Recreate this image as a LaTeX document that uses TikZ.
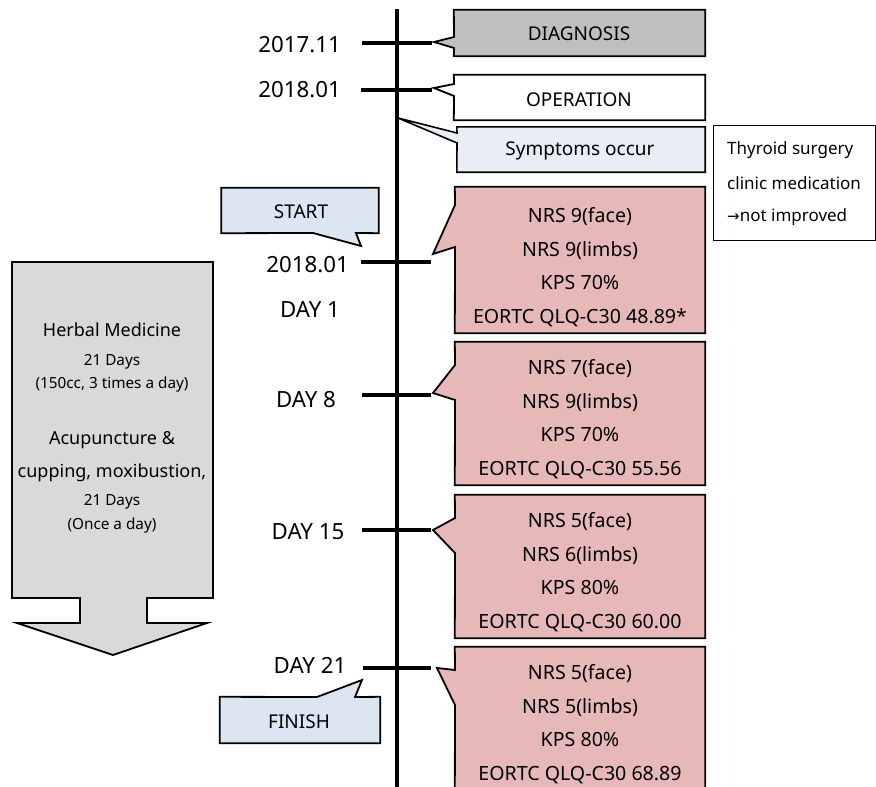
\documentclass[tikz,border=0pt]{standalone}
\usepackage{fontspec}
\setmainfont{Noto Sans}
\newfontfamily\symfont{DejaVu Sans}
\definecolor{diaggray}{HTML}{BFBFBF}
\definecolor{pinkfill}{HTML}{E6B9B8}
\definecolor{sympfill}{HTML}{E9EEF6}
\definecolor{startfill}{HTML}{DCE6F2}
\definecolor{arrowfill}{HTML}{D9D9D9}
\newcommand{\fs}[2]{\fontsize{#1}{#2}\selectfont}
\tikzset{
  boxline/.style={draw=black, line width=1.8pt, line join=miter},
  boxnode/.style={inner sep=0pt, minimum width=250pt, align=center},
  datebox/.style={font=\fs{22.3}{26}, inner sep=0pt},
  measure/.style={boxnode, font=\fs{19.6}{33.5}},
  tick/.style={line width=4.5pt},
  herb/.style={inner sep=0pt, font=\fs{18}{20}},
  herbsmall/.style={inner sep=0pt, font=\fs{15.3}{17}},
  labeltext/.style={inner sep=0pt, font=\fs{19}{21}},
  notetext/.style={anchor=west, inner sep=0pt, font=\fs{17}{20}},
}
\begin{document}
\begin{tikzpicture}[x=1pt,y=-1pt]
\useasboundingbox (0,0) rectangle (876,787);
% ---------- timeline ----------
\coordinate (ltop) at (397,9);
\coordinate (lbot) at (397,790);
\draw[line width=4pt] (ltop) -- (lbot);
\coordinate (t1a) at (362,43);  \coordinate (t1b) at (432,43);
\coordinate (t2a) at (361,90);  \coordinate (t2b) at (432,90);
\coordinate (t3a) at (361,262); \coordinate (t3b) at (431,262);
\coordinate (t4a) at (362,395); \coordinate (t4b) at (431,395);
\coordinate (t5a) at (362,530); \coordinate (t5b) at (431,530);
\coordinate (t6a) at (363,668); \coordinate (t6b) at (431,668);
\foreach \i in {1,...,6} \draw[tick] (t\i a) -- (t\i b);
% ---------- dates ----------
\node[datebox, anchor=east] (d1) at (341,45) {2017.11};
\node[datebox, anchor=east] (d2) at (341,90) {2018.01};
\node[datebox, anchor=east] (d3) at (349,265) {2018.01};
\node[datebox] (d4) at (310,310) {DAY 1};
\node[datebox] (d5) at (306,400) {DAY 8};
\node[datebox] (d6) at (308,532) {DAY 15};
\node[datebox] (d7) at (310,665) {DAY 21};
% ---------- DIAGNOSIS ----------
\node[boxnode, minimum width=251pt, minimum height=46pt] (diag) at (579.5,33) {};
\draw[boxline, fill=diaggray] (diag.north west) -- (diag.north east) -- (diag.south east) -- (diag.south west)
  -- (454,48) -- (434,42) -- (454,37) -- cycle;
\node[labeltext] (diagt) at (579,34) {DIAGNOSIS};
% ---------- OPERATION ----------
\node[boxnode, minimum width=251pt, minimum height=45pt] (oper) at (579.5,97.5) {};
\draw[boxline, fill=white] (oper.north west) -- (oper.north east) -- (oper.south east) -- (oper.south west)
  -- (454,96) -- (434,88) -- (454,84) -- cycle;
\node[labeltext] (opert) at (579,100) {OPERATION};
% ---------- Symptoms ----------
\node[boxnode, minimum width=248pt, minimum height=45pt] (symp) at (581,149.5) {};
\coordinate (sptip) at (398,118);
\draw[boxline, fill=sympfill, line width=1.6pt] (symp.north west) -- (symp.north east) -- (symp.south east) -- (symp.south west)
  -- (457,143) -- (sptip) -- (457,133) -- cycle;
\node[labeltext] (sympt) at (580,151) {Symptoms occur};
% ---------- Thyroid note ----------
\node[draw=black, line width=0.8pt, minimum width=162pt, minimum height=115pt, inner sep=0pt] (thy) at (794.5,182.5) {};
\node[notetext] (thy1) at (727,150) {Thyroid surgery};
\node[notetext] (thy2) at (727,183) {clinic medication};
\node[notetext] (thy3) at (727,217) {{\symfont\fs{15}{20}→}not improved};
% ---------- START ----------
\node[minimum width=157pt, minimum height=45pt, inner sep=0pt] (start) at (300,210.5) {};
\draw[boxline, fill=startfill] (start.north west) -- (start.north east) -- (start.south east)
  -- (356,233) -- (361,246) -- (313,233) -- (start.south west) -- cycle;
\node[labeltext] (startt) at (301,212) {START};
% ---------- FINISH ----------
\node[minimum width=160pt, minimum height=46pt, inner sep=0pt] (finish) at (300,720) {};
\draw[boxline, fill=startfill] (finish.south west) -- (finish.north west) -- (317,697) -- (362,680) -- (355,697)
  -- (finish.north east) -- (finish.south east) -- cycle;
\node[labeltext] (finisht) at (299,722) {FINISH};
% ---------- measurement boxes ----------
\node[boxnode, minimum height=146pt] (m1) at (580,260) {};
\draw[boxline, fill=pinkfill] (m1.north west) -- (m1.north east) -- (m1.south east) -- (m1.south west)
  -- (455,247) -- (433,254) -- (455,205) -- cycle;
\node[measure] (m1t) at (580,267) {NRS 9(face)\\NRS 9(limbs)\\KPS 70\%\\EORTC QLQ-C30 48.89*};

\node[boxnode, minimum height=143pt] (m2) at (580,413.5) {};
\draw[boxline, fill=pinkfill] (m2.north west) -- (m2.north east) -- (m2.south east) -- (m2.south west)
  -- (455,400) -- (433,393) -- (455,365) -- cycle;
\node[measure] (m2t) at (580,419) {NRS 7(face)\\NRS 9(limbs)\\KPS 70\%\\EORTC QLQ-C30 55.56};

\node[boxnode, minimum height=143pt] (m3) at (580,566.5) {};
\draw[boxline, fill=pinkfill] (m3.north west) -- (m3.north east) -- (m3.south east) -- (m3.south west)
  -- (455,553) -- (433,530) -- (455,518) -- cycle;
\node[measure] (m3t) at (580,572) {NRS 5(face)\\NRS 6(limbs)\\KPS 80\%\\EORTC QLQ-C30 60.00};

\node[boxnode, minimum height=150pt] (m4) at (580,722) {};
\draw[boxline, fill=pinkfill] (m4.north west) -- (m4.north east) -- (m4.south east) -- (m4.south west)
  -- (455,705) -- (437,668) -- (455,670) -- cycle;
\node[measure] (m4t) at (580,724) {NRS 5(face)\\NRS 5(limbs)\\KPS 80\%\\EORTC QLQ-C30 68.89};
% ---------- treatment arrow ----------
\draw[boxline, fill=arrowfill] (12,262) -- (213,262) -- (213,598) -- (147,598) -- (147,623) -- (207,623)
  -- (113,655) -- (17,623) -- (80,623) -- (80,598) -- (12,598) -- cycle;
\node[herb] (h1) at (112,330) {Herbal Medicine};
\node[herbsmall] (h2) at (112,362) {21 Days};
\node[herbsmall] (h3) at (112,385) {(150cc, 3 times a day)};
\node[herb] (h4) at (112,440) {Acupuncture \&};
\node[herb] (h5) at (112,473) {cupping, moxibustion,};
\node[herbsmall] (h6) at (112,502) {21 Days};
\node[herbsmall] (h7) at (112,526) {(Once a day)};
\end{tikzpicture}
\end{document}
